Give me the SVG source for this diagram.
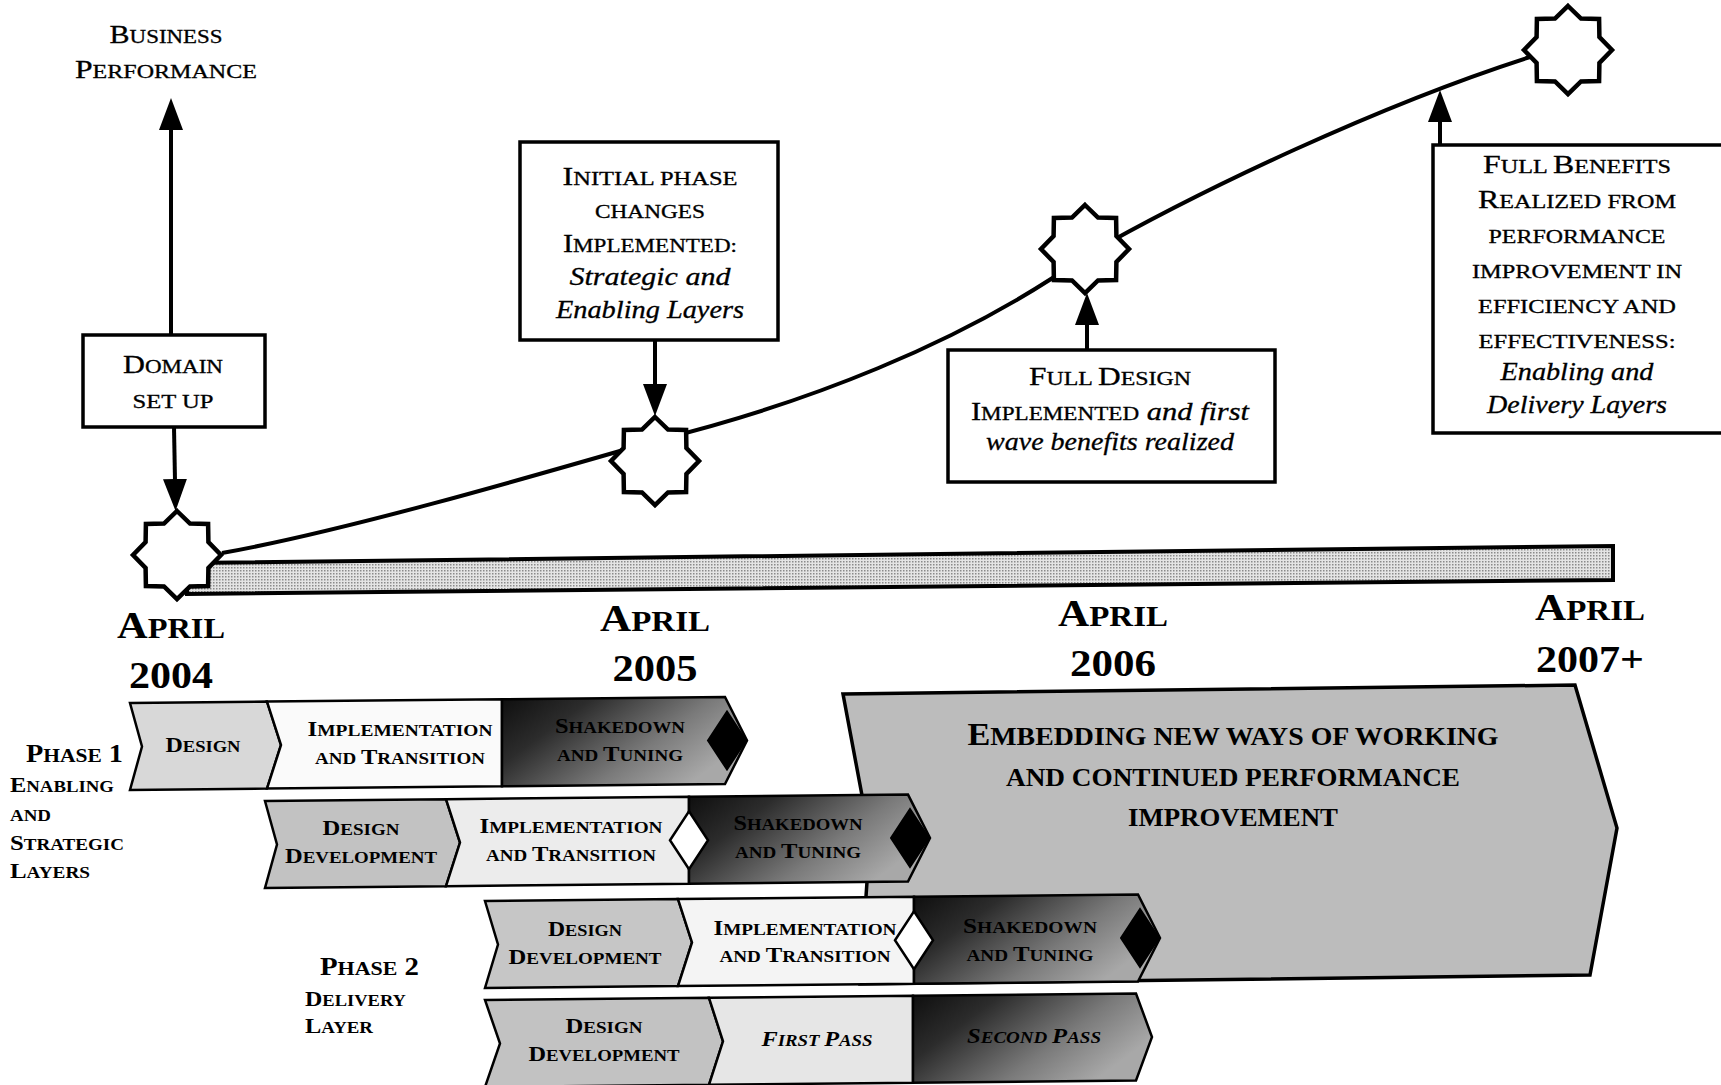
<svg xmlns="http://www.w3.org/2000/svg" width="1721" height="1085" viewBox="0 0 1721 1085">
<defs>
<style>
text { font-family: "Liberation Serif", "Times New Roman", serif; fill: #000; }
.c { text-anchor: middle; }
.cap { font-size: 25px; stroke: #000; stroke-width: 0.3px; }
.sm { font-size: 19px; }
.it { font-style: italic; font-size: 25px; stroke: #000; stroke-width: 0.3px; }
.yr { font-weight: bold; font-size: 38px; }
.ys { font-size: 29px; }
.lb { font-weight: bold; font-size: 22px; }
.ls { font-size: 17px; }
.ph { font-weight: bold; font-size: 25px; }
.phs { font-size: 19px; }
.em { font-weight: bold; font-size: 32px; }
.ems { font-size: 26px; }
.box { fill: #fff; stroke: #000; stroke-width: 3.5; }
.conn { stroke: #000; stroke-width: 4; fill: none; }
.seg { stroke: #000; stroke-width: 2.5; stroke-linejoin: miter; }
.wd { fill: #fff; stroke: #000; stroke-width: 2.5; }
.bd { fill: #000; stroke: #000; stroke-width: 2; }
</style>
<marker id="ah" viewBox="0 0 32 24" markerWidth="32" markerHeight="24" refX="2" refY="12" orient="auto" markerUnits="userSpaceOnUse">
<path d="M0,0 L32,12 L0,24 z" fill="#000"/>
</marker>
<polygon id="star" points="0,-44 13,-31.4 31.1,-31.1 31.4,-13 44,0 31.4,13 31.1,31.1 13,31.4 0,44 -13,31.4 -31.1,31.1 -31.4,13 -44,0 -31.4,-13 -31.1,-31.1 -13,-31.4" fill="#fff" stroke="#000" stroke-width="4.5"/>
<polygon id="dia" points="0,-29 19,0 0,29 -19,0"/>
<linearGradient id="gShake" x1="0" y1="0" x2="1" y2="0.5">
<stop offset="0" stop-color="#0e0e0e"/>
<stop offset="0.3" stop-color="#2c2c2c"/>
<stop offset="0.7" stop-color="#7a7a7a"/>
<stop offset="1" stop-color="#a8a8a8"/>
</linearGradient>
<pattern id="dots" width="3" height="3" patternUnits="userSpaceOnUse">
<rect width="3" height="3" fill="#e4e4e4"/>
<rect width="1.5" height="1.5" fill="#8a8a8a"/>
</pattern>
</defs>

<rect width="1721" height="1085" fill="#fff"/>

<!-- big embedding arrow (behind rows) -->
<g id="embedding">
<polygon points="843,694 1575,685 1617,828 1590,975 860,984 870,838" fill="#bcbcbc" stroke="#000" stroke-width="3.5"/>
<text class="c em" x="1233" y="745" textLength="531" lengthAdjust="spacingAndGlyphs">E<tspan class="ems">MBEDDING NEW WAYS OF WORKING</tspan></text>
<text class="c em" x="1233" y="786" textLength="454" lengthAdjust="spacingAndGlyphs"><tspan class="ems">AND CONTINUED PERFORMANCE</tspan></text>
<text class="c em" x="1233" y="826" textLength="210" lengthAdjust="spacingAndGlyphs"><tspan class="ems">IMPROVEMENT</tspan></text>
</g>

<!-- timeline bar -->
<g id="timeline">
<polygon points="187,563 1613,546 1613,580 187,594" fill="url(#dots)" stroke="#000" stroke-width="4"/>
</g>

<!-- connectors -->
<g id="connectors">
<path class="conn" d="M222,553 C340,532 520,480 658,440 C800,405 960,345 1085,256 C1200,190 1380,105 1530,57"/>
<line class="conn" x1="171" y1="335" x2="171" y2="128" marker-end="url(#ah)"/>
<line class="conn" x1="174" y1="427" x2="175" y2="481" marker-end="url(#ah)"/>
<line class="conn" x1="655" y1="340" x2="655" y2="386" marker-end="url(#ah)"/>
<line class="conn" x1="1087" y1="350" x2="1087" y2="323" marker-end="url(#ah)"/>
<line class="conn" x1="1440" y1="145" x2="1440" y2="120" marker-end="url(#ah)"/>
</g>

<!-- milestones -->
<g id="star1"><use href="#star" x="177" y="555"/></g>
<g id="star2"><use href="#star" x="655" y="461"/></g>
<g id="star3"><use href="#star" x="1085" y="249"/></g>
<g id="star4"><use href="#star" x="1568" y="50"/></g>

<g id="business-performance">
<text class="c cap" x="166" y="43" textLength="113" lengthAdjust="spacingAndGlyphs">B<tspan class="sm">USINESS</tspan></text>
<text class="c cap" x="166" y="78" textLength="182" lengthAdjust="spacingAndGlyphs">P<tspan class="sm">ERFORMANCE</tspan></text>
</g>

<g id="domain-setup">
<rect class="box" x="83" y="335" width="182" height="92"/>
<text class="c cap" x="173" y="373" textLength="100" lengthAdjust="spacingAndGlyphs">D<tspan class="sm">OMAIN</tspan></text>
<text class="c cap" x="173" y="408" textLength="81" lengthAdjust="spacingAndGlyphs"><tspan class="sm">SET UP</tspan></text>
</g>

<g id="initial-phase">
<rect class="box" x="520" y="142" width="258" height="198"/>
<text class="c cap" x="650" y="185" textLength="175" lengthAdjust="spacingAndGlyphs">I<tspan class="sm">NITIAL PHASE</tspan></text>
<text class="c cap" x="650" y="218" textLength="110" lengthAdjust="spacingAndGlyphs"><tspan class="sm">CHANGES</tspan></text>
<text class="c cap" x="650" y="252" textLength="174" lengthAdjust="spacingAndGlyphs">I<tspan class="sm">MPLEMENTED:</tspan></text>
<text class="c it" x="650" y="285" textLength="161" lengthAdjust="spacingAndGlyphs">Strategic and</text>
<text class="c it" x="650" y="318" textLength="188" lengthAdjust="spacingAndGlyphs">Enabling Layers</text>
</g>

<g id="full-design">
<rect class="box" x="948" y="350" width="327" height="132"/>
<text class="c cap" x="1110" y="385" textLength="162" lengthAdjust="spacingAndGlyphs">F<tspan class="sm">ULL </tspan>D<tspan class="sm">ESIGN</tspan></text>
<text class="c cap" x="1110" y="420" textLength="278" lengthAdjust="spacingAndGlyphs">I<tspan class="sm">MPLEMENTED</tspan><tspan font-style="italic"> and first</tspan></text>
<text class="c it" x="1110" y="450" textLength="248" lengthAdjust="spacingAndGlyphs">wave benefits realized</text>
</g>

<g id="full-benefits">
<rect class="box" x="1433" y="145" width="300" height="288"/>
<text class="c cap" x="1577" y="173" textLength="188" lengthAdjust="spacingAndGlyphs">F<tspan class="sm">ULL </tspan>B<tspan class="sm">ENEFITS</tspan></text>
<text class="c cap" x="1577" y="208" textLength="198" lengthAdjust="spacingAndGlyphs">R<tspan class="sm">EALIZED FROM</tspan></text>
<text class="c cap" x="1577" y="243" textLength="177" lengthAdjust="spacingAndGlyphs"><tspan class="sm">PERFORMANCE</tspan></text>
<text class="c cap" x="1577" y="278" textLength="210" lengthAdjust="spacingAndGlyphs"><tspan class="sm">IMPROVEMENT IN</tspan></text>
<text class="c cap" x="1577" y="313" textLength="198" lengthAdjust="spacingAndGlyphs"><tspan class="sm">EFFICIENCY AND</tspan></text>
<text class="c cap" x="1577" y="348" textLength="197" lengthAdjust="spacingAndGlyphs"><tspan class="sm">EFFECTIVENESS:</tspan></text>
<text class="c it" x="1577" y="380" textLength="153" lengthAdjust="spacingAndGlyphs">Enabling and</text>
<text class="c it" x="1577" y="413" textLength="180" lengthAdjust="spacingAndGlyphs">Delivery Layers</text>
</g>

<!-- year labels -->
<g id="year-2004">
<text class="c yr" x="171" y="638" textLength="108" lengthAdjust="spacingAndGlyphs">A<tspan class="ys">PRIL</tspan></text>
<text class="c yr" x="171" y="688" textLength="84" lengthAdjust="spacingAndGlyphs">2004</text>
</g>
<g id="year-2005">
<text class="c yr" x="655" y="631" textLength="110" lengthAdjust="spacingAndGlyphs">A<tspan class="ys">PRIL</tspan></text>
<text class="c yr" x="655" y="681" textLength="85" lengthAdjust="spacingAndGlyphs">2005</text>
</g>
<g id="year-2006">
<text class="c yr" x="1113" y="626" textLength="110" lengthAdjust="spacingAndGlyphs">A<tspan class="ys">PRIL</tspan></text>
<text class="c yr" x="1113" y="676" textLength="86" lengthAdjust="spacingAndGlyphs">2006</text>
</g>
<g id="year-2007">
<text class="c yr" x="1590" y="620" textLength="110" lengthAdjust="spacingAndGlyphs">A<tspan class="ys">PRIL</tspan></text>
<text class="c yr" x="1590" y="672" textLength="108" lengthAdjust="spacingAndGlyphs">2007+</text>
</g>

<!-- phase labels -->
<g id="phase1-label">
<text class="ph" x="26" y="762" textLength="97" lengthAdjust="spacingAndGlyphs">P<tspan class="phs">HASE</tspan> 1</text>
<text class="lb" x="10" y="792" textLength="104" lengthAdjust="spacingAndGlyphs">E<tspan class="ls">NABLING</tspan></text>
<text class="lb" x="10" y="821" textLength="41" lengthAdjust="spacingAndGlyphs"><tspan class="ls">AND</tspan></text>
<text class="lb" x="10" y="850" textLength="114" lengthAdjust="spacingAndGlyphs">S<tspan class="ls">TRATEGIC</tspan></text>
<text class="lb" x="10" y="878" textLength="80" lengthAdjust="spacingAndGlyphs">L<tspan class="ls">AYERS</tspan></text>
</g>
<g id="phase2-label">
<text class="ph" x="320" y="975" textLength="99" lengthAdjust="spacingAndGlyphs">P<tspan class="phs">HASE</tspan> 2</text>
<text class="lb" x="305" y="1006" textLength="101" lengthAdjust="spacingAndGlyphs">D<tspan class="ls">ELIVERY</tspan></text>
<text class="lb" x="305" y="1033" textLength="68" lengthAdjust="spacingAndGlyphs">L<tspan class="ls">AYER</tspan></text>
</g>

<!-- row 1 -->
<g id="row1">
<polygon class="seg" fill="#d8d8d8" points="130,703 267,701.6 281,745 267,788.6 130,790 142,746.5"/>
<polygon class="seg" fill="#fafafa" points="267,701.6 502,699.3 502,786.3 267,788.6 281,745"/>
<polygon class="seg" fill="url(#gShake)" points="502,699.3 725,697 747,740.5 725,784 502,786.3"/>
<use href="#dia" class="bd" x="727" y="740.5"/>
<text class="c lb" x="203" y="752" textLength="75" lengthAdjust="spacingAndGlyphs">D<tspan class="ls">ESIGN</tspan></text>
<text class="c lb" x="400" y="736" textLength="185" lengthAdjust="spacingAndGlyphs">I<tspan class="ls">MPLEMENTATION</tspan></text>
<text class="c lb" x="400" y="764" textLength="170" lengthAdjust="spacingAndGlyphs"><tspan class="ls">AND </tspan>T<tspan class="ls">RANSITION</tspan></text>
<text class="c lb" x="620" y="733" textLength="130" lengthAdjust="spacingAndGlyphs">S<tspan class="ls">HAKEDOWN</tspan></text>
<text class="c lb" x="620" y="761" textLength="126" lengthAdjust="spacingAndGlyphs"><tspan class="ls">AND </tspan>T<tspan class="ls">UNING</tspan></text>
</g>

<!-- row 2 -->
<g id="row2">
<polygon class="seg" fill="#c2c2c2" points="265,801 446,799.2 460,842.6 446,886.2 265,888 277,844.5"/>
<polygon class="seg" fill="#ececec" points="446,799.2 689,796.8 689,883.8 446,886.2 460,842.6"/>
<polygon class="seg" fill="url(#gShake)" points="689,796.8 908,794.6 930,838 908,881.6 689,883.8"/>
<use href="#dia" class="wd" x="689" y="840.3"/>
<use href="#dia" class="bd" x="910" y="838"/>
<text class="c lb" x="361" y="835" textLength="77" lengthAdjust="spacingAndGlyphs">D<tspan class="ls">ESIGN</tspan></text>
<text class="c lb" x="361" y="863" textLength="152" lengthAdjust="spacingAndGlyphs">D<tspan class="ls">EVELOPMENT</tspan></text>
<text class="c lb" x="571" y="833" textLength="183" lengthAdjust="spacingAndGlyphs">I<tspan class="ls">MPLEMENTATION</tspan></text>
<text class="c lb" x="571" y="861" textLength="170" lengthAdjust="spacingAndGlyphs"><tspan class="ls">AND </tspan>T<tspan class="ls">RANSITION</tspan></text>
<text class="c lb" x="798" y="830" textLength="129" lengthAdjust="spacingAndGlyphs">S<tspan class="ls">HAKEDOWN</tspan></text>
<text class="c lb" x="798" y="858" textLength="126" lengthAdjust="spacingAndGlyphs"><tspan class="ls">AND </tspan>T<tspan class="ls">UNING</tspan></text>
</g>

<!-- row 3 -->
<g id="row3">
<polygon class="seg" fill="#c6c6c6" points="485,901 678,899.1 692,942.4 678,986.1 485,988 498,944.5"/>
<polygon class="seg" fill="#f4f4f4" points="678,899.1 914,896.7 914,983.7 678,986.1 692,942.4"/>
<polygon class="seg" fill="url(#gShake)" points="914,896.7 1138,894.5 1160,938 1138,981.5 914,983.7"/>
<use href="#dia" class="wd" x="914" y="940.2"/>
<use href="#dia" class="bd" x="1140" y="938"/>
<text class="c lb" x="585" y="936" textLength="74" lengthAdjust="spacingAndGlyphs">D<tspan class="ls">ESIGN</tspan></text>
<text class="c lb" x="585" y="964" textLength="153" lengthAdjust="spacingAndGlyphs">D<tspan class="ls">EVELOPMENT</tspan></text>
<text class="c lb" x="805" y="935" textLength="183" lengthAdjust="spacingAndGlyphs">I<tspan class="ls">MPLEMENTATION</tspan></text>
<text class="c lb" x="805" y="962" textLength="171" lengthAdjust="spacingAndGlyphs"><tspan class="ls">AND </tspan>T<tspan class="ls">RANSITION</tspan></text>
<text class="c lb" x="1030" y="933" textLength="134" lengthAdjust="spacingAndGlyphs">S<tspan class="ls">HAKEDOWN</tspan></text>
<text class="c lb" x="1030" y="961" textLength="127" lengthAdjust="spacingAndGlyphs"><tspan class="ls">AND </tspan>T<tspan class="ls">UNING</tspan></text>
</g>

<!-- row 4 -->
<g id="row4">
<polygon class="seg" fill="#c2c2c2" points="485,1000 709,997.8 723,1041.3 709,1084.8 485,1087 500,1043.5"/>
<polygon class="seg" fill="#e6e6e6" points="709,997.8 913,995.7 913,1082.7 709,1084.8 723,1041.3"/>
<polygon class="seg" fill="url(#gShake)" points="913,995.7 1136,993.5 1152,1037 1136,1080.5 913,1082.7"/>
<text class="c lb" x="604" y="1033" textLength="77" lengthAdjust="spacingAndGlyphs">D<tspan class="ls">ESIGN</tspan></text>
<text class="c lb" x="604" y="1061" textLength="151" lengthAdjust="spacingAndGlyphs">D<tspan class="ls">EVELOPMENT</tspan></text>
<text class="c lb" x="817" y="1046" textLength="111" lengthAdjust="spacingAndGlyphs" font-style="italic">F<tspan class="ls">IRST </tspan>P<tspan class="ls">ASS</tspan></text>
<text class="c lb" x="1034" y="1043" textLength="134" lengthAdjust="spacingAndGlyphs" font-style="italic">S<tspan class="ls">ECOND </tspan>P<tspan class="ls">ASS</tspan></text>
</g>
</svg>
